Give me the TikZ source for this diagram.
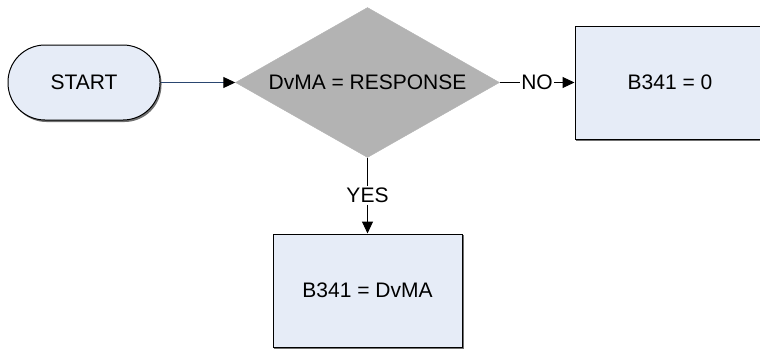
\documentclass[tikz,border=0pt]{standalone}
\usepackage{fontspec}
\setmainfont{Liberation Sans}
\usetikzlibrary{shapes.geometric,arrows.meta}
\definecolor{boxfill}{HTML}{E6ECF7}
\definecolor{dgray}{HTML}{B3B3B3}
\definecolor{navy}{HTML}{2A4670}
\definecolor{shad}{HTML}{707070}
\begin{document}
\begin{tikzpicture}[x=1pt,y=-1pt,
  lbl/.style={font=\fontsize{21}{24}\selectfont},
  procbox/.style={draw=black,line width=1pt,fill=boxfill,rectangle,inner sep=0pt,lbl},
  conn/.style={line width=1pt,draw=black},
  tip/.style={-{Triangle[length=12pt,width=11pt]}}]
\useasboundingbox (0,0) rectangle (760,348);
% shadows
\fill[shad,rounded corners=37pt] (9.5,46.5) rectangle (161.5,122);
\fill[shad] (576,27) rectangle (766,140.5);
\fill[shad] (274,235) rectangle (463.5,349);
% nodes
\node[draw=black,line width=1pt,fill=boxfill,rounded corners=37pt,minimum width=152pt,minimum height=75pt,inner sep=0pt,lbl] (start) at (84,82.5) {START};
\node[diamond,draw=dgray,fill=dgray,inner sep=0pt,aspect=1.76,
  minimum height=150pt,minimum width=264pt] (dec) at (367.5,82.5) {};
\node[lbl] at (dec.center) {DvMA = RESPONSE};
\node[procbox,minimum width=190pt,minimum height=113pt] (b1) at (670,82.5) {B341 = 0};
\node[procbox,minimum width=189pt,minimum height=113pt] (b2) at (367.5,290.5) {B341 = DvMA};
\node[lbl,inner sep=1.5pt] (no) at (537,82.5) {NO};
\node[lbl,inner sep=1.5pt] (yes) at (367.5,195.5) {YES};
% connectors
\draw[line width=1pt,navy,-{Triangle[length=12pt,width=11pt,fill=black,color=black]}] (start.east) -- (dec.west);
\draw[conn] (dec.east) -- (no.west);
\draw[conn,tip] (no.east) -- (b1.west);
\draw[conn] (dec.south) -- (yes.north);
\draw[conn,tip] (yes.south) -- (b2.north);
\end{tikzpicture}
\end{document}
